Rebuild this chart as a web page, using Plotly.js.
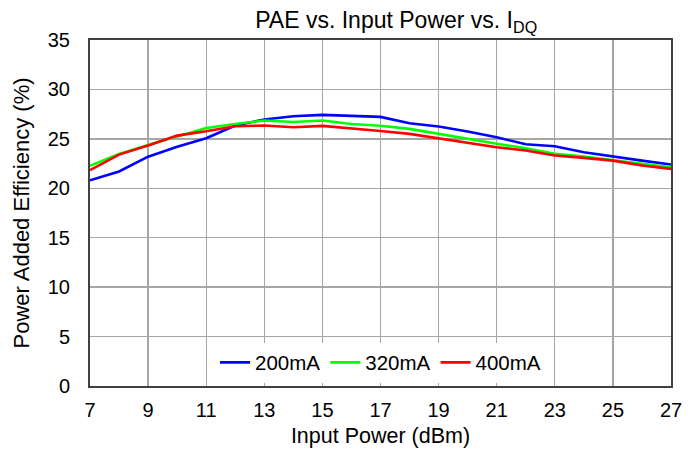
<!DOCTYPE html>
<html><head><meta charset="utf-8">
<script src="https://cdn.plot.ly/plotly-3.0.1.min.js"></script>
<style>html,body{margin:0;padding:0;background:#fff}#c{width:700px;height:452px}</style>
</head><body><div id="c"></div>
<script>
const inputPower = [7,8,9,10,11,12,13,14,15,16,17,18,19,20,21,22,23,24,25,26,27];
const pae200 = [20.8,21.7,23.2,24.2,25.06,26.35,26.95,27.29,27.43,27.33,27.22,26.58,26.25,25.74,25.16,24.45,24.25,23.64,23.2,22.8,22.4];
const pae320 = [22.27,23.48,24.39,25.27,26.1,26.5,26.85,26.7,26.85,26.5,26.32,26.01,25.5,25.0,24.5,24.05,23.48,23.2,22.87,22.47,22.13];
const pae400 = [21.83,23.41,24.32,25.33,25.77,26.28,26.35,26.18,26.31,26.07,25.8,25.5,25.06,24.62,24.15,23.82,23.31,23.08,22.8,22.3,21.96];
const seriesNames = ['200mA','320mA','400mA'];
const xTicks = [7,9,11,13,15,17,19,21,23,25,27];
const yTicks = [0,5,10,15,20,25,30,35];

const colors = ['#0000ff','#00ff00','#ff0000'];
const ys = [pae200, pae320, pae400];
const traces = ys.map((y,i)=>({x:inputPower,y:y,type:'scatter',mode:'lines',name:seriesNames[i],line:{color:colors[i],width:2.6}}));
const font = {family:'Liberation Sans, Arial, sans-serif', color:'#000'};
const f = s => Object.assign({size:s},font);
const layout = {
  width:700,height:452,
  margin:{l:90,r:29,t:40,b:66},
  paper_bgcolor:'#fff',plot_bgcolor:'#fff',
  font:f(20),
  title:{text:'PAE vs. Input Power vs. I<sub>DQ</sub>',font:f(23),x:0.566,xanchor:'center',xref:'container',y:0.955,yanchor:'middle',yref:'container'},
  xaxis:{range:[7,27],tickvals:xTicks,ticktext:xTicks.map(String),showgrid:true,gridcolor:'#a6a6a6',gridwidth:1.3,
    showline:true,linecolor:'#404040',linewidth:2,mirror:true,ticks:'',zeroline:false,automargin:false,
    title:{text:'Input Power (dBm)',font:f(21.5),standoff:8},tickfont:f(20),ticklabelstandoff:5},
  yaxis:{range:[0,35],tickvals:yTicks,showgrid:true,gridcolor:'#a6a6a6',gridwidth:1.3,
    showline:true,linecolor:'#404040',linewidth:2,mirror:true,ticks:'',zeroline:false,automargin:false,
    title:{text:'Power Added Efficiency (%)',font:f(22),standoff:12},tickfont:f(20),ticklabelstandoff:14},
  legend:{orientation:'h',x:0.5,xanchor:'center',y:0.01,yanchor:'bottom',bgcolor:'rgba(255,255,255,1)',font:f(20.5),itemwidth:30,tracegroupgap:0},
  showlegend:true
};
Plotly.newPlot('c',traces,layout,{displayModeBar:false,staticPlot:true});
</script></body></html>
